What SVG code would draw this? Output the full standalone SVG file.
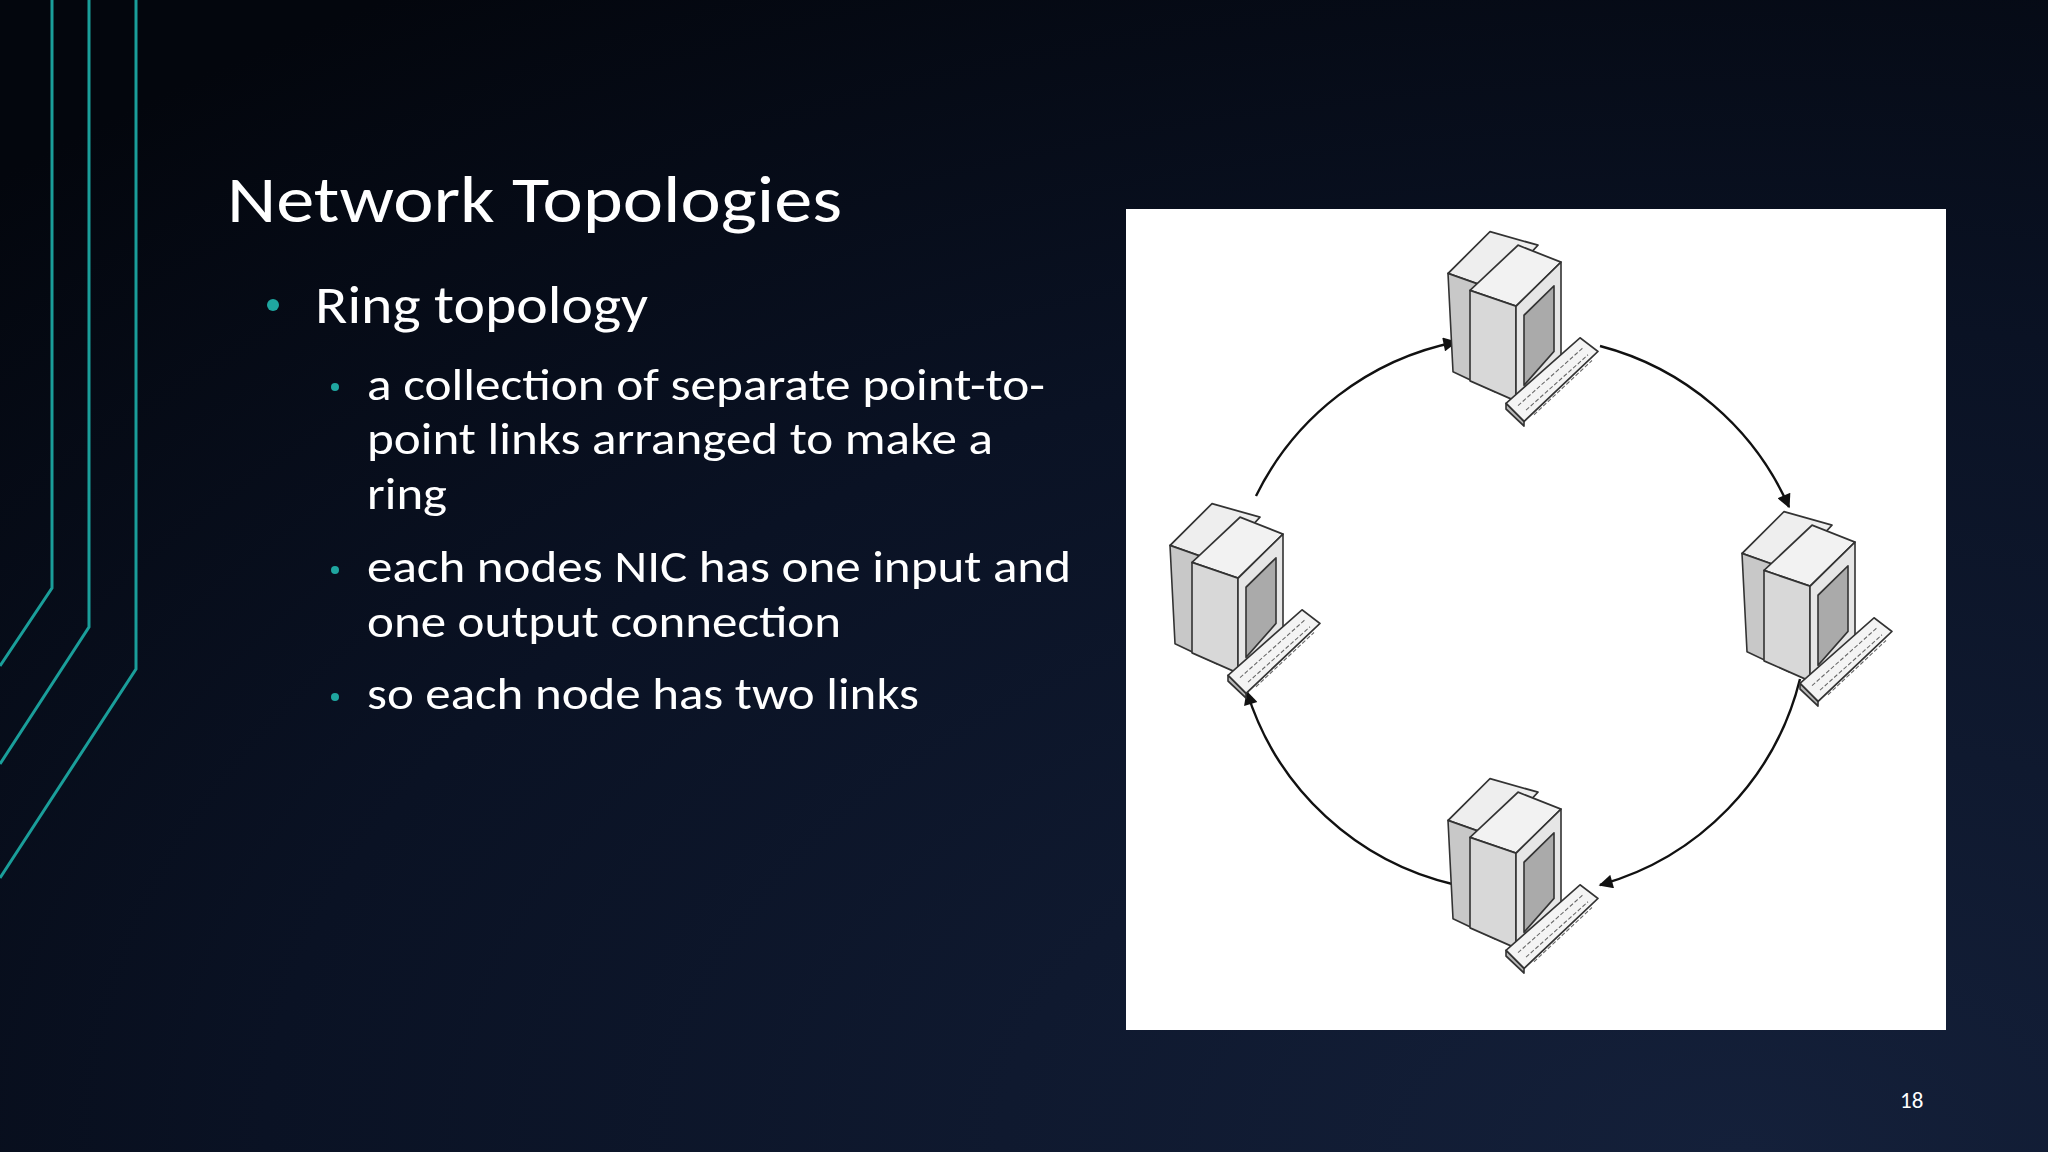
<svg xmlns="http://www.w3.org/2000/svg" width="2048" height="1152" viewBox="0 0 2048 1152">
<defs>
<radialGradient id="bg" cx="0.85" cy="1" r="1.2">
<stop offset="0" stop-color="#14203a"/><stop offset="0.6" stop-color="#0a1224"/><stop offset="1" stop-color="#03060d"/>
</radialGradient>
<marker id="ah" viewBox="0 0 10 10" refX="9" refY="5" markerWidth="16" markerHeight="14" orient="auto" markerUnits="userSpaceOnUse">
<path d="M0,0 L10,5 L0,10 z" fill="#111"/>
</marker>
<g id="pc" stroke="#333" stroke-width="1.6" stroke-linejoin="round">
<polygon points="0,65 42,28 90,40 48,80" fill="#eee"/>
<polygon points="0,65 48,80 48,170 5,152" fill="#c8c8c8"/>
<polygon points="22,80 70,40 113,55 68,94" fill="#f2f2f2"/>
<polygon points="22,80 68,94 68,178 22,160" fill="#d8d8d8"/>
<polygon points="68,94 113,55 113,140 68,178" fill="#e6e6e6"/>
<polygon points="76,102 106,76 106,134 76,164" fill="#aaa"/>
<polygon points="58,180 132,122 150,134 76,196" fill="#f4f4f4"/>
<polygon points="58,180 76,196 76,200 58,185" fill="#bbb"/>
<path d="M70,182 L136,130 M78,186 L140,137 M86,190 L144,142" stroke="#666" stroke-width="1" stroke-dasharray="4 2" fill="none"/>
</g>
<style>
.t{font-family:"Calibri","Liberation Sans","Noto Sans",sans-serif;fill:#fff}
.ln{fill:none;stroke:#1a9e9a;stroke-width:3}
.c{fill:none;stroke:#111;stroke-width:2.4;marker-end:url(#ah)}
</style>
</defs>
<rect width="2048" height="1152" fill="url(#bg)"/>
<g id="deco">
<polyline class="ln" points="52,0 52,588 0,666"/>
<polyline class="ln" points="89,0 89,627 0,764"/>
<polyline class="ln" points="136,0 136,669 0,878" stroke-width="4"/>
</g>
<g id="text">
<text class="t" x="227" y="222" font-size="66" textLength="615" lengthAdjust="spacingAndGlyphs">Network Topologies</text>
<circle cx="273" cy="305" r="6" fill="#1fa6a0"/>
<text class="t" x="315" y="323" font-size="54" textLength="333" lengthAdjust="spacingAndGlyphs">Ring topology</text>
<g font-size="46">
<circle cx="335" cy="387" r="4" fill="#1fa6a0"/>
<text class="t" x="367" y="400" textLength="678" lengthAdjust="spacingAndGlyphs">a collection of separate point-to-</text>
<text class="t" x="367" y="454" textLength="626" lengthAdjust="spacingAndGlyphs">point links arranged to make a</text>
<text class="t" x="367" y="509" textLength="80" lengthAdjust="spacingAndGlyphs">ring</text>
<circle cx="335" cy="570" r="4" fill="#1fa6a0"/>
<text class="t" x="367" y="582" textLength="704" lengthAdjust="spacingAndGlyphs">each nodes NIC has one input and</text>
<text class="t" x="367" y="637" textLength="474" lengthAdjust="spacingAndGlyphs">one output connection</text>
<circle cx="335" cy="697" r="4" fill="#1fa6a0"/>
<text class="t" x="367" y="709" textLength="552" lengthAdjust="spacingAndGlyphs">so each node has two links</text>
</g>
<text class="t" x="1900" y="1108" font-size="23">18</text>
</g>
<rect x="1126" y="209" width="820" height="821" fill="#fff"/>
<g id="connectors">
<path class="c" d="M1256,496 A285,285 0 0 1 1456,342"/>
<path class="c" d="M1600,346 A285,285 0 0 1 1789,507"/>
<path class="c" d="M1800,679 A285,285 0 0 1 1600,885"/>
<path class="c" d="M1456,885 A285,285 0 0 1 1247,692"/>
</g>
<g id="node-top"><use href="#pc" transform="translate(1448,200) scale(1,1.13)"/></g>
<g id="node-left"><use href="#pc" transform="translate(1170,472) scale(1,1.13)"/></g>
<g id="node-right"><use href="#pc" transform="translate(1742,480) scale(1,1.13)"/></g>
<g id="node-bottom"><use href="#pc" transform="translate(1448,747) scale(1,1.13)"/></g>
</svg>
